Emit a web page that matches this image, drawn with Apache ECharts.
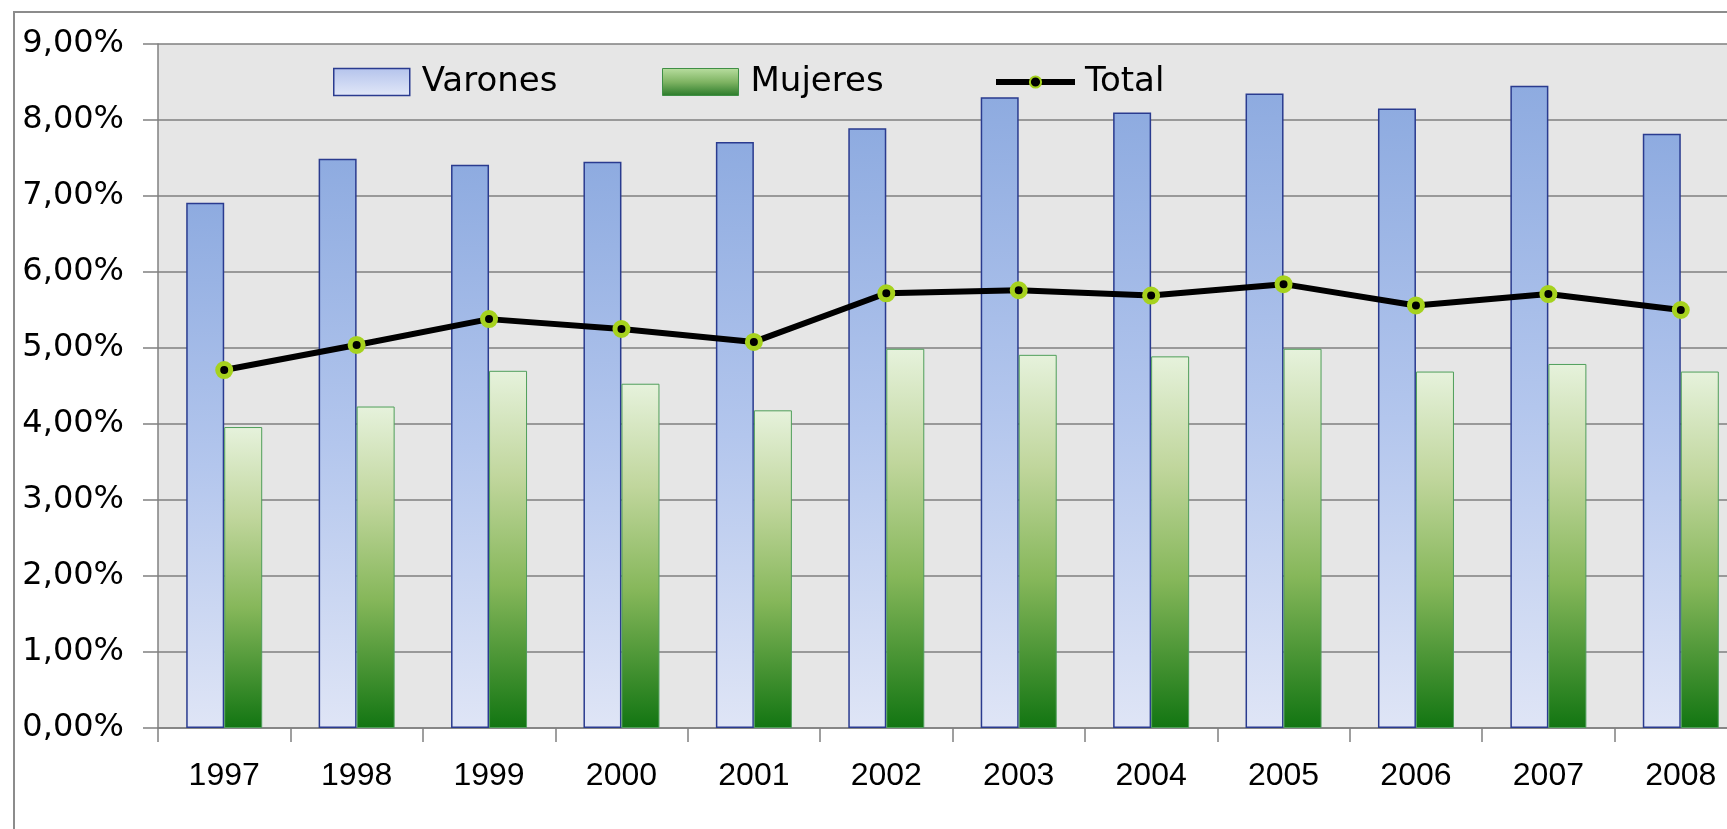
<!DOCTYPE html>
<html>
<head>
<meta charset="utf-8">
<title>Varones / Mujeres / Total 1997-2008</title>
<script src="https://cdn.jsdelivr.net/npm/echarts@6/dist/echarts.min.js"></script>
<style>
  html, body { margin: 0; padding: 0; background: #ffffff; }
  #chart { width: 1727px; height: 829px; }
</style>
</head>
<body>
<div id="chart"></div>
<script>
// Años
const categories = ['1997', '1998', '1999', '2000', '2001', '2002', '2003', '2004', '2005', '2006', '2007', '2008'];
// Porcentajes por año (en %)
const varones = [6.91, 7.49, 7.41, 7.45, 7.71, 7.89, 8.30, 8.10, 8.35, 8.15, 8.45, 7.82];
const mujeres = [3.96, 4.23, 4.70, 4.53, 4.18, 4.99, 4.91, 4.89, 4.99, 4.69, 4.79, 4.69];
const total   = [4.71, 5.04, 5.38, 5.25, 5.08, 5.72, 5.76, 5.69, 5.84, 5.56, 5.71, 5.50];
// Escala del eje de valores (en %)
const yMin = 0;
const yMax = 9;
const yStep = 1;

const fmtPct = v => v.toFixed(2).replace('.', ',') + '%';

const chart = echarts.init(document.getElementById('chart'), null, { renderer: 'canvas' });

const grad = stops => new echarts.graphic.LinearGradient(0, 0, 0, 1,
  stops.map(([offset, color]) => ({ offset, color })));

const varonesFill = grad([[0, '#8eabe0'], [0.5, '#b3c6ed'], [1, '#dfe5f6']]);
const mujeresFill = grad([[0, '#e6f2dc'], [0.3, '#c0d69c'], [0.6, '#86b75a'], [1, '#127512']]);
const varonesKey = grad([[0, '#b4c3ec'], [1, '#e2e8f8']]);
const mujeresKey = grad([[0, '#b9dea0'], [0.5, '#7fb463'], [1, '#2a7a2a']]);

const legendText = { fontFamily: 'DejaVu Sans', fontSize: 34, color: '#000000', padding: [0, 0, 0, 7] };

chart.setOption({
  animation: false,
  backgroundColor: '#ffffff',
  graphic: [{
    type: 'rect',
    z: -10,
    silent: true,
    shape: { x: 14, y: 12, width: 1800, height: 900 },
    style: { fill: 'none', stroke: '#8c8c8c', lineWidth: 2 }
  }],
  grid: {
    left: 158,
    top: 44,
    right: -20,
    bottom: 101,
    show: true,
    backgroundColor: '#e6e6e6',
    borderWidth: 0,
    containLabel: false,
    outerBoundsMode: 'none'
  },
  legend: [
    {
      data: [{ name: 'Varones', icon: 'rect', itemStyle: { color: varonesKey, borderColor: '#2a3b8f', borderWidth: 1.5 } }],
      left: 333, top: 65, padding: 0,
      itemWidth: 76, itemHeight: 27,
      selectedMode: false,
      textStyle: legendText
    },
    {
      data: [{ name: 'Mujeres', icon: 'rect', itemStyle: { color: mujeresKey, borderColor: '#3f8f45', borderWidth: 1 } }],
      left: 662, top: 65, padding: 0,
      itemWidth: 76, itemHeight: 27,
      selectedMode: false,
      textStyle: legendText
    },
    {
      data: ['Total'],
      left: 993, top: 65, padding: 0,
      itemWidth: 79, itemHeight: 14,
      selectedMode: false,
      lineStyle: { width: 6, color: '#000000' },
      textStyle: Object.assign({}, legendText, { padding: [0, 0, 0, 5] })
    }
  ],
  xAxis: {
    type: 'category',
    data: categories,
    boundaryGap: true,
    axisLine: { show: true, lineStyle: { color: '#808080', width: 1.5 } },
    axisTick: { show: true, inside: false, length: 14, lineStyle: { color: '#808080', width: 1.5 } },
    axisLabel: { fontFamily: 'Liberation Sans', fontSize: 32, color: '#000000', margin: 32 },
    splitLine: { show: false }
  },
  yAxis: {
    type: 'value',
    min: yMin,
    max: yMax,
    interval: yStep,
    axisLine: { show: true, lineStyle: { color: '#808080', width: 1.5 } },
    axisTick: { show: true, inside: false, length: 15, lineStyle: { color: '#808080', width: 1.5 } },
    axisLabel: {
      fontFamily: 'DejaVu Sans', fontSize: 32, color: '#000000', margin: 34,
      formatter: fmtPct
    },
    splitLine: { show: true, lineStyle: { color: '#7f7f7f', width: 1.5 } }
  },
  series: [
    {
      name: 'Varones',
      type: 'bar',
      data: varones,
      barWidth: 38,
      barGap: '0%',
      itemStyle: { color: varonesFill, borderColor: '#2a3b8f', borderWidth: 1.5 },
      z: 2
    },
    {
      name: 'Mujeres',
      type: 'bar',
      data: mujeres,
      barWidth: 38,
      barGap: '0%',
      itemStyle: { color: mujeresFill, borderColor: '#4f9e5a', borderWidth: 1 },
      z: 2
    },
    {
      name: 'Total',
      type: 'line',
      data: total,
      symbol: 'circle',
      symbolSize: 13,
      showSymbol: true,
      lineStyle: { color: '#000000', width: 6 },
      itemStyle: { color: '#000000', borderColor: '#a6d21e', borderWidth: 5 },
      z: 5
    }
  ]
});
</script>
</body>
</html>
